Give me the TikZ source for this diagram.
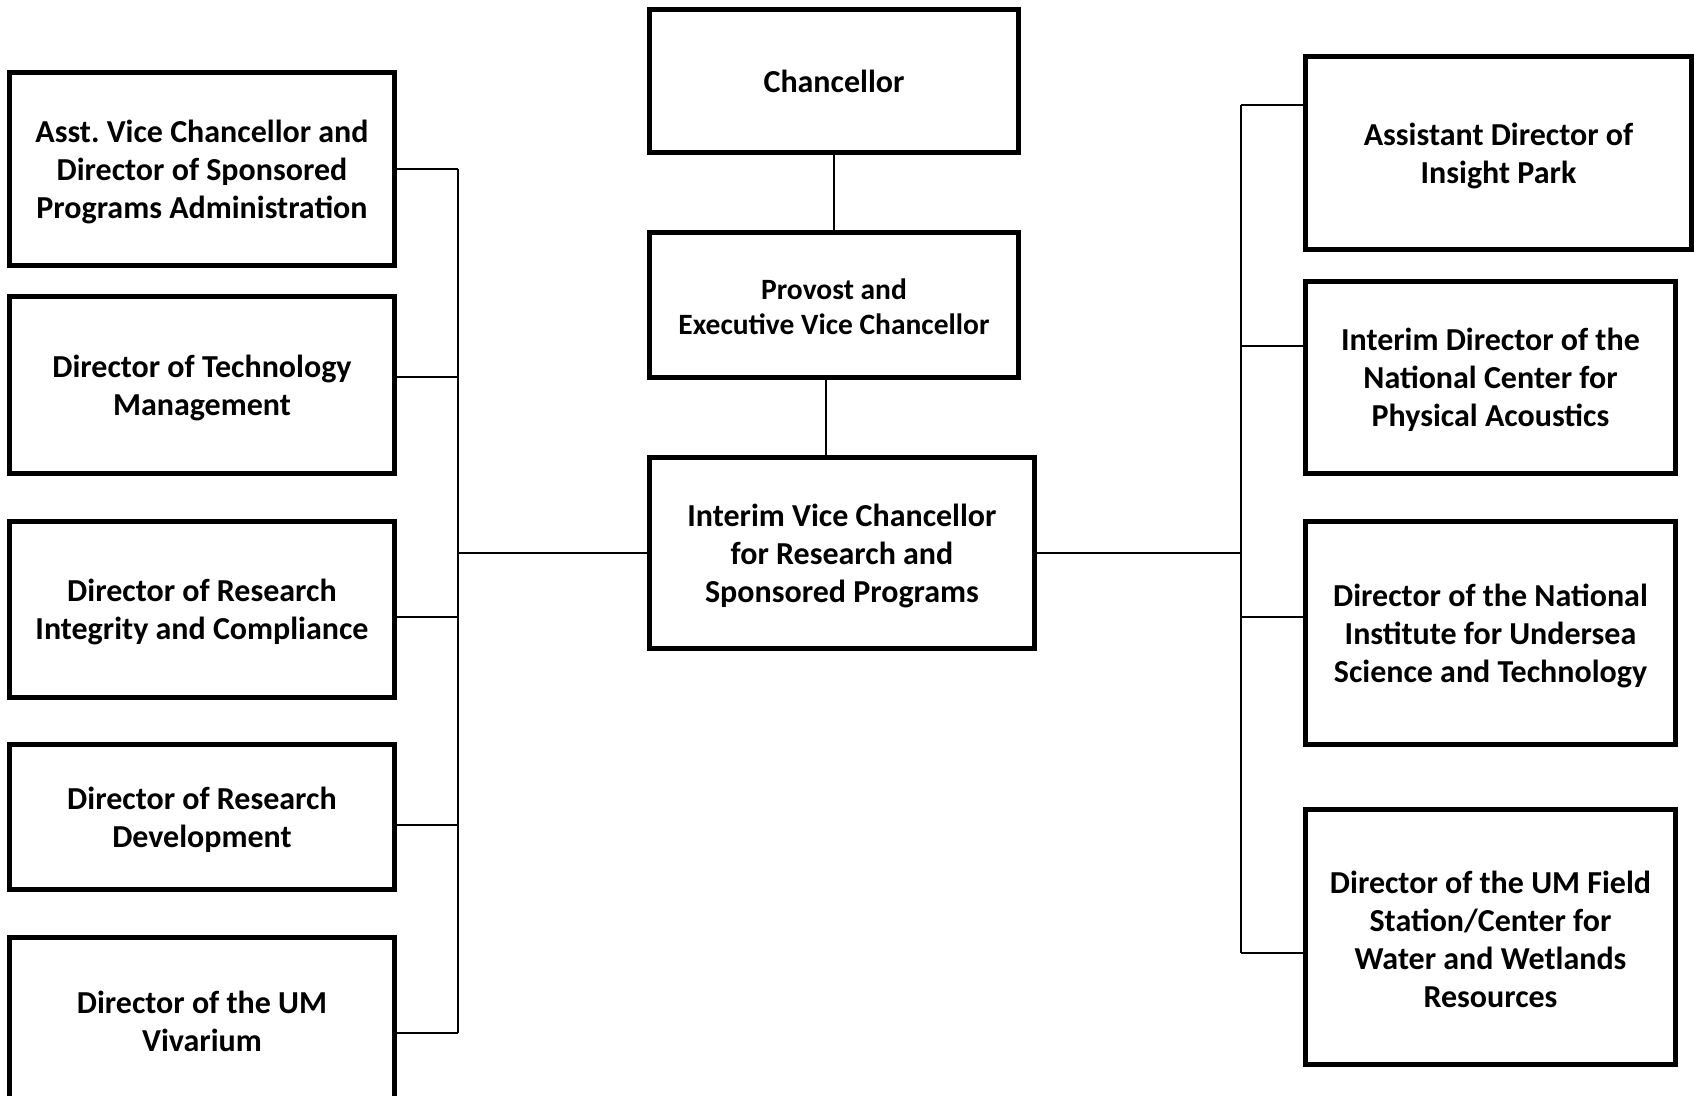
\documentclass[tikz,border=0pt]{standalone}
\usepackage{fontspec}
\setmainfont{Carlito}
\frenchspacing
\newcommand{\topstrutx}{\rule{0pt}{28pt}}
\newcommand{\topstruty}{\rule{0pt}{24pt}}
\begin{document}
\tikzset{
  box/.style={draw, line width=5pt, rectangle, inner sep=0pt, align=center,
    font=\bfseries\fontsize{32}{38}\selectfont},
  smalltext/.style={font=\bfseries\fontsize{29.5}{35.5}\selectfont},
  conn/.style={line width=1.6pt},
}
\begin{tikzpicture}[x=1pt,y=-1pt]
\useasboundingbox (0,0) rectangle (1694,1095);
% centre column
\node[box, minimum width=369pt, minimum height=143pt] (ch) at (834,81) {Chancellor};
\node[box, smalltext, minimum width=369pt, minimum height=145pt] (pv) at (834,305) {\topstruty Provost and\\Executive Vice Chancellor};
\node[box, minimum width=385pt, minimum height=191pt] (iv) at (842,553) {\topstrutx Interim Vice Chancellor\\for Research and\\Sponsored Programs};
% left column
\node[box, minimum width=385pt, minimum height=193pt] (l1) at (202,169) {\topstrutx Asst. Vice Chancellor and\\Director of Sponsored\\Programs Administration};
\node[box, minimum width=385pt, minimum height=177pt] (l2) at (202,385) {\topstrutx Director of Technology\\Management};
\node[box, minimum width=385pt, minimum height=176pt] (l3) at (202,609.5) {\topstrutx Director of Research\\Integrity and Compliance};
\node[box, minimum width=385pt, minimum height=145pt] (l4) at (202,817) {\topstrutx Director of Research\\Development};
\node[box, minimum width=385pt, minimum height=163pt] (l5) at (202,1019) {\topstrutx Director of the UM\\Vivarium};
% right column
\node[box, minimum width=386pt, minimum height=193pt] (r1) at (1498.5,153) {\topstrutx Assistant Director of\\Insight Park};
\node[box, minimum width=370pt, minimum height=192pt] (r2) at (1490.5,377.5) {\topstrutx Interim Director of the\\National Center for\\Physical Acoustics};
\node[box, minimum width=370pt, minimum height=223pt] (r3) at (1490.5,633) {\topstrutx Director of the National\\Institute for Undersea\\Science and Technology};
\node[box, minimum width=370pt, minimum height=255pt] (r4) at (1490.5,937) {\topstrutx Director of the UM Field\\Station/Center for\\Water and Wetlands\\Resources};
% bus coordinates
\coordinate (pvx) at (826,0);
\coordinate (lb1) at (458,169);
\coordinate (lb2) at (458,377);
\coordinate (lb3) at (458,617);
\coordinate (lb4) at (458,825);
\coordinate (lb5) at (458,1033);
\coordinate (rb1) at (1241,105);
\coordinate (rb2) at (1241,346);
\coordinate (rb3) at (1241,617);
\coordinate (rb4) at (1241,953);
% connectors
\draw[conn] (ch.south) -- (pv.north);
\draw[conn] (pv.south -| pvx) -- (iv.north -| pvx);
\draw[conn] (lb1) -- (lb5);
\draw[conn] (l1.east |- lb1) -- (lb1);
\draw[conn] (l2.east |- lb2) -- (lb2);
\draw[conn] (l3.east |- lb3) -- (lb3);
\draw[conn] (l4.east |- lb4) -- (lb4);
\draw[conn] (l5.east |- lb5) -- (lb5);
\draw[conn] (iv.west) -- (iv.west -| lb1);
\draw[conn] (rb1) -- (rb4);
\draw[conn] (r1.west |- rb1) -- (rb1);
\draw[conn] (r2.west |- rb2) -- (rb2);
\draw[conn] (r3.west |- rb3) -- (rb3);
\draw[conn] (r4.west |- rb4) -- (rb4);
\draw[conn] (iv.east) -- (iv.east -| rb1);
\end{tikzpicture}
\end{document}
